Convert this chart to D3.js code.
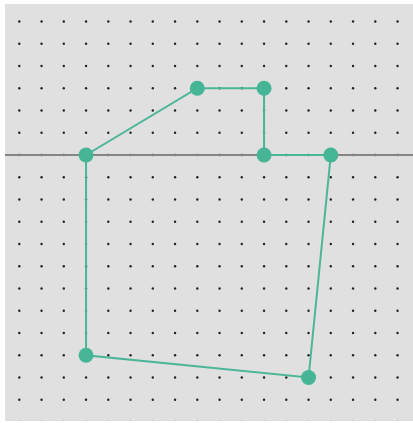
<!DOCTYPE html>
<html>
<head>
<meta charset="utf-8">
<script src="https://cdn.jsdelivr.net/npm/d3@7"></script>
<style>
  body { margin: 0; background: #fff; }
  svg { display: block; }
</style>
</head>
<body>
<div id="chart"></div>
<script>
// Grid extents (in grid units)
var gridX = d3.range(0, 18);     // columns 0..17
var gridY = d3.range(-12, 7);    // rows -12..6

// Polygon vertices, in order
var px = [3, 8, 11, 11, 14, 13, 3];
var py = [0, 3, 3, 0, 0, -10, -9];

var width = 413, height = 423;

var x = d3.scaleLinear().domain([0, 17]).range([19.3, 397.55]);
var y = d3.scaleLinear().domain([0, -11]).range([155, 399.75]);

var svg = d3.select("#chart").append("svg")
    .attr("width", width)
    .attr("height", height);

svg.append("clipPath").attr("id", "clip")
  .append("rect")
    .attr("x", 5).attr("y", 4)
    .attr("width", width - 5).attr("height", 417);

// Background panel
svg.append("rect")
    .attr("x", 5).attr("y", 4)
    .attr("width", width - 5).attr("height", 417)
    .attr("fill", "#e0e0e0");

var plot = svg.append("g").attr("clip-path", "url(#clip)");

// Dot grid
var cells = [];
gridY.forEach(function(j) {
  gridX.forEach(function(i) { cells.push([i, j]); });
});

plot.append("g").selectAll("circle")
    .data(cells)
    .enter().append("circle")
    .attr("cx", d => x(d[0]))
    .attr("cy", d => y(d[1]))
    .attr("r", 1.2)
    .attr("fill", "#222");

// Horizontal axis
plot.append("line")
    .attr("x1", 5).attr("x2", width)
    .attr("y1", y(0)).attr("y2", y(0))
    .attr("stroke", "#858585")
    .attr("stroke-width", 2);

// Polygon
var pts = px.map((v, k) => [x(v), y(py[k])]);

plot.append("path")
    .datum(pts)
    .attr("d", d3.line().curve(d3.curveLinearClosed))
    .attr("fill", "none")
    .attr("stroke", "#4ab697")
    .attr("stroke-width", 2);

plot.append("g").selectAll("circle")
    .data(pts)
    .enter().append("circle")
    .attr("cx", d => d[0])
    .attr("cy", d => d[1])
    .attr("r", 7.5)
    .attr("fill", "#45b596");
</script>
</body>
</html>
